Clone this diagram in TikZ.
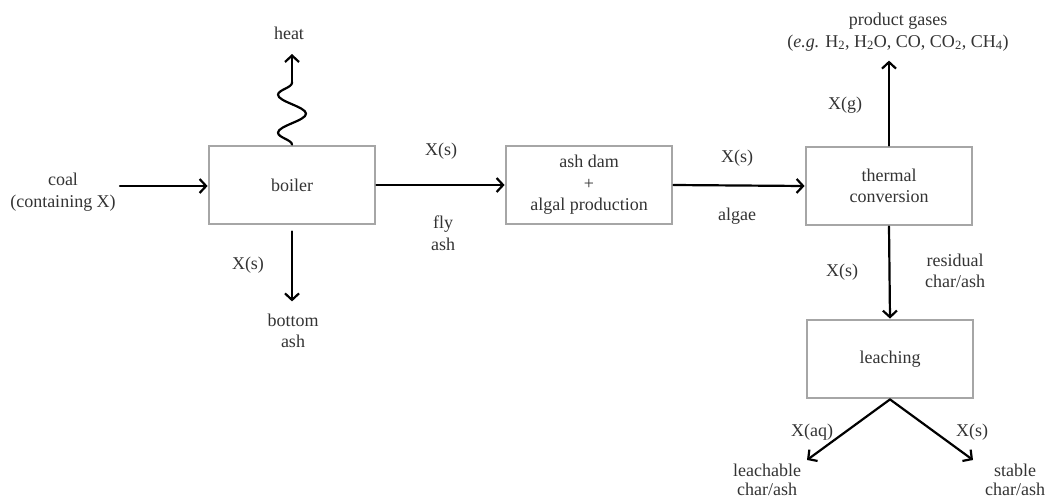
\documentclass[tikz,border=0pt]{standalone}
\usepackage{fontspec}
\setmainfont{Liberation Serif}
\usepackage{tikz}
\usetikzlibrary{arrows.meta,decorations.pathmorphing}
\usepackage{xcolor}
\definecolor{boxgray}{HTML}{A6A6A6}
\definecolor{txtgray}{HTML}{333333}

\begin{document}
\begin{tikzpicture}[x=1pt,y=-1pt,>={Straight Barb[length=6.5pt,width=14pt]},
  font=\fontsize{18}{21.5}\selectfont,line cap=round,
  stage/.style={draw=boxgray,line width=2.8pt,minimum width=166pt,minimum height=78pt,
    align=center,text=txtgray,inner sep=0pt},
  lbl/.style={align=center,text=txtgray,inner sep=0pt},
  flow/.style={->,line width=2.2pt,black}]
\useasboundingbox (0,0) rectangle (1046,501);
% process boxes
\node[stage] (boiler) at (292,185) {boiler};
\node[stage] (ashdam) at (589,185) {ash dam\\+\\algal production};
\node[stage] (thermal) at (889,186) {thermal\\conversion};
\node[stage] (leaching) at (890,359) {leaching};
% inputs and outputs
\node[lbl] (coal) at (63,192) {coal\\(containing X)};
\node[lbl] (heat) at (289,33) {heat};
\node[lbl] (botash) at (293,331) {bottom\\ash};
\node[lbl] (gases) at (898,32) {product gases\\(\textit{e.g.} H\textsubscript{2}, H\textsubscript{2}O, CO, CO\textsubscript{2}, CH\textsubscript{4})};
\node[lbl,font=\fontsize{18}{19.5}\selectfont] (leachable) at (767,480) {leachable\\char/ash};
\node[lbl,font=\fontsize{18}{19.5}\selectfont] (stable) at (1015,480) {stable\\char/ash};
\coordinate (wv) at (292,82);
\coordinate (heattip) at (292,54);
\coordinate (leftend) at (807,460);
\coordinate (rightend) at (973,460);
% connectors
\draw[flow] (coal.east |- 0,186) ++(4,0) -- (boiler.west |- 0,186);
\draw[line width=2.2pt,decorate,decoration={snake,amplitude=14pt,segment length=38pt}] (boiler.north -| wv) -- (wv);
\draw[flow] (wv) -- (heattip);
\draw[flow] (boiler.south) ++(0,6) -- ++(0,70);
\draw[flow] (boiler.east) -- (ashdam.west);
\draw[flow] (ashdam.east) -- (thermal.west);
\draw[flow] (thermal.north) -- ++(0,-85);
\draw[flow] (thermal.south) -- (leaching.north);
\draw[flow] (leaching.south) -- (leftend);
\draw[flow] (leaching.south) -- (rightend);
% stream labels
\node[lbl] (bs) at (248,265) {X(s)};
\node[lbl] (fs) at (441,151) {X(s)};
\node[lbl] (fly) at (443,233) {fly\\ash};
\node[lbl] (as) at (737,158) {X(s)};
\node[lbl] (algae) at (737,216) {algae};
\node[lbl] (xg) at (845,105) {X(g)};
\node[lbl] (ts) at (842,272) {X(s)};
\node[lbl] (resid) at (955,271) {residual\\char/ash};
\node[lbl] (xaq) at (812,432) {X(aq)};
\node[lbl] (ls) at (972,432) {X(s)};
\end{tikzpicture}
\end{document}
